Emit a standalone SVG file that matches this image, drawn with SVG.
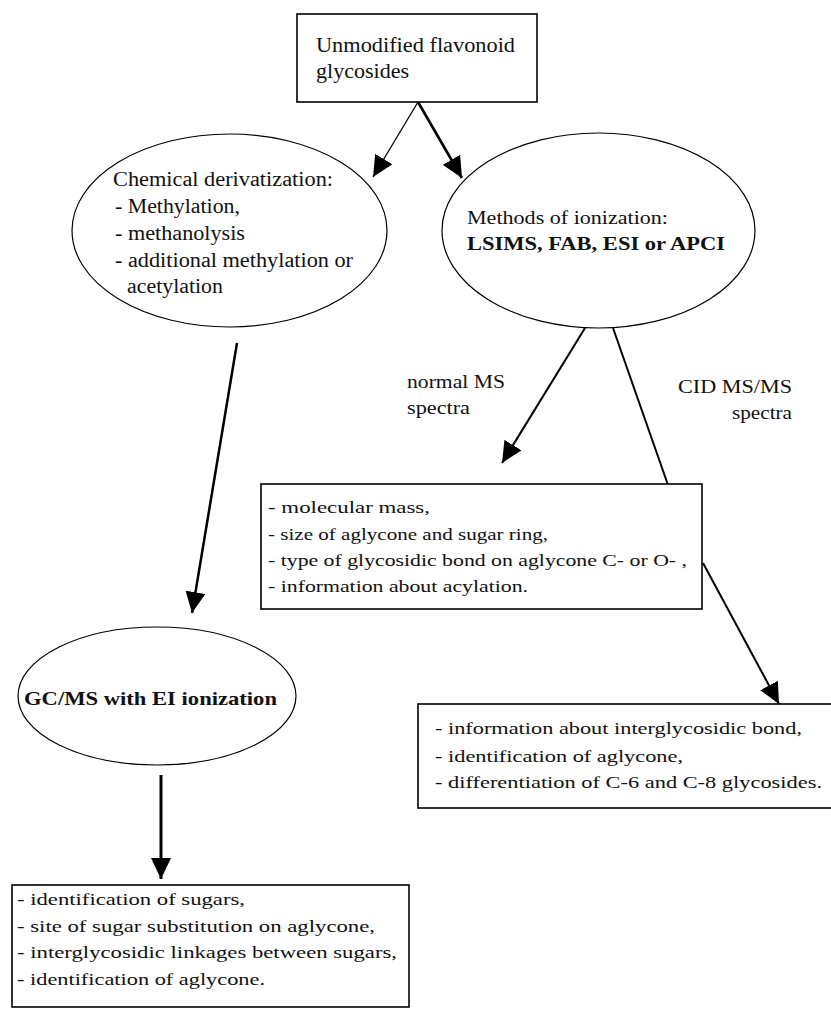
<svg xmlns="http://www.w3.org/2000/svg" width="831" height="1011" viewBox="0 0 831 1011">
<style>
.bg{fill:#fff}
.box{fill:#fff;stroke:#000;stroke-width:1.6}
.ell{fill:#fff;stroke:#000;stroke-width:1.2}
.t{font-family:"Liberation Serif","Times New Roman",serif;fill:#111}
.b{font-weight:bold}
.ln{stroke:#000;fill:none}
</style>
<defs>
<marker id="ah" markerUnits="userSpaceOnUse" markerWidth="22" markerHeight="20" refX="21" refY="10" orient="auto">
<path d="M0,0 L21,10 L0,20 z" fill="#000"/>
</marker>
</defs>
<rect class="bg" x="0" y="0" width="831" height="1011"/>
<g id="connectors">
<line class="ln" x1="418" y1="102" x2="373" y2="177" stroke-width="1.3" marker-end="url(#ah)"/>
<line class="ln" x1="418" y1="102" x2="462" y2="178" stroke-width="2.6" marker-end="url(#ah)"/>
<line class="ln" x1="585" y1="328" x2="502" y2="463" stroke-width="2" marker-end="url(#ah)"/>
<line class="ln" x1="613" y1="328" x2="668" y2="485" stroke-width="2"/>
<line class="ln" x1="703" y1="563" x2="779" y2="704" stroke-width="2" marker-end="url(#ah)"/>
<line class="ln" x1="237" y1="343" x2="192" y2="613" stroke-width="2.5" marker-end="url(#ah)"/>
<line class="ln" x1="161" y1="775" x2="161" y2="879" stroke-width="3" marker-end="url(#ah)"/>
</g>
<g id="n-top">
<rect class="box" x="297" y="14" width="240" height="88"/>
<text class="t" x="316" y="52" font-size="20" textLength="199" lengthAdjust="spacingAndGlyphs">Unmodified flavonoid</text>
<text class="t" x="316" y="78" font-size="20" textLength="93" lengthAdjust="spacingAndGlyphs">glycosides</text>
</g>
<g id="n-chem">
<ellipse class="ell" cx="229.5" cy="230.5" rx="157.5" ry="96.5"/>
<text class="t" x="113" y="186" font-size="20" textLength="220" lengthAdjust="spacingAndGlyphs">Chemical derivatization:</text>
<text class="t" x="115" y="213" font-size="20" textLength="125" lengthAdjust="spacingAndGlyphs">- Methylation,</text>
<text class="t" x="115" y="240" font-size="20" textLength="130" lengthAdjust="spacingAndGlyphs">- methanolysis</text>
<text class="t" x="115" y="267" font-size="20" textLength="238" lengthAdjust="spacingAndGlyphs">- additional methylation or</text>
<text class="t" x="127" y="293" font-size="20" textLength="96" lengthAdjust="spacingAndGlyphs">acetylation</text>
</g>
<g id="n-ion">
<ellipse class="ell" cx="598.5" cy="230.5" rx="156.5" ry="97.5"/>
<text class="t" x="467" y="224" font-size="19" textLength="201" lengthAdjust="spacingAndGlyphs">Methods of ionization:</text>
<text class="t b" x="467" y="250" font-size="19" textLength="258" lengthAdjust="spacingAndGlyphs">LSIMS, FAB, ESI or APCI</text>
</g>
<g id="lbl-normal">
<text class="t" x="407" y="388" font-size="18" textLength="98" lengthAdjust="spacingAndGlyphs">normal MS</text>
<text class="t" x="407" y="414" font-size="18" textLength="63" lengthAdjust="spacingAndGlyphs">spectra</text>
</g>
<g id="lbl-cid">
<text class="t" x="678" y="393" font-size="18" textLength="114" lengthAdjust="spacingAndGlyphs">CID MS/MS</text>
<text class="t" x="732" y="419" font-size="18" textLength="60" lengthAdjust="spacingAndGlyphs">spectra</text>
</g>
<g id="n-ms">
<rect class="box" x="261" y="484" width="441" height="125"/>
<text class="t" x="268" y="513" font-size="17" textLength="162" lengthAdjust="spacingAndGlyphs">- molecular  mass,</text>
<text class="t" x="268" y="540" font-size="17" textLength="280" lengthAdjust="spacingAndGlyphs">- size of aglycone and sugar ring,</text>
<text class="t" x="268" y="566" font-size="17" textLength="419" lengthAdjust="spacingAndGlyphs">- type of glycosidic bond on aglycone C- or O- ,</text>
<text class="t" x="268" y="592" font-size="17" textLength="260" lengthAdjust="spacingAndGlyphs">- information about acylation.</text>
</g>
<g id="n-cid">
<rect class="box" x="418" y="704" width="415" height="104"/>
<text class="t" x="435" y="734" font-size="17" textLength="367" lengthAdjust="spacingAndGlyphs">- information about interglycosidic bond,</text>
<text class="t" x="435" y="762" font-size="17" textLength="248" lengthAdjust="spacingAndGlyphs">- identification of aglycone,</text>
<text class="t" x="435" y="788" font-size="17" textLength="387" lengthAdjust="spacingAndGlyphs">- differentiation of C-6 and C-8  glycosides.</text>
</g>
<g id="n-gc">
<ellipse class="ell" cx="157" cy="696" rx="139" ry="69"/>
<text class="t b" x="24" y="705" font-size="19" textLength="253" lengthAdjust="spacingAndGlyphs">GC/MS with EI ionization</text>
</g>
<g id="n-res">
<rect class="box" x="12" y="885" width="397" height="122"/>
<text class="t" x="17" y="905" font-size="17" textLength="228" lengthAdjust="spacingAndGlyphs">- identification of sugars,</text>
<text class="t" x="17" y="932" font-size="17" textLength="358" lengthAdjust="spacingAndGlyphs">- site of sugar substitution on aglycone,</text>
<text class="t" x="17" y="958" font-size="17" textLength="380" lengthAdjust="spacingAndGlyphs">- interglycosidic linkages between sugars,</text>
<text class="t" x="17" y="985" font-size="17" textLength="248" lengthAdjust="spacingAndGlyphs">- identification of aglycone.</text>
</g>
</svg>
